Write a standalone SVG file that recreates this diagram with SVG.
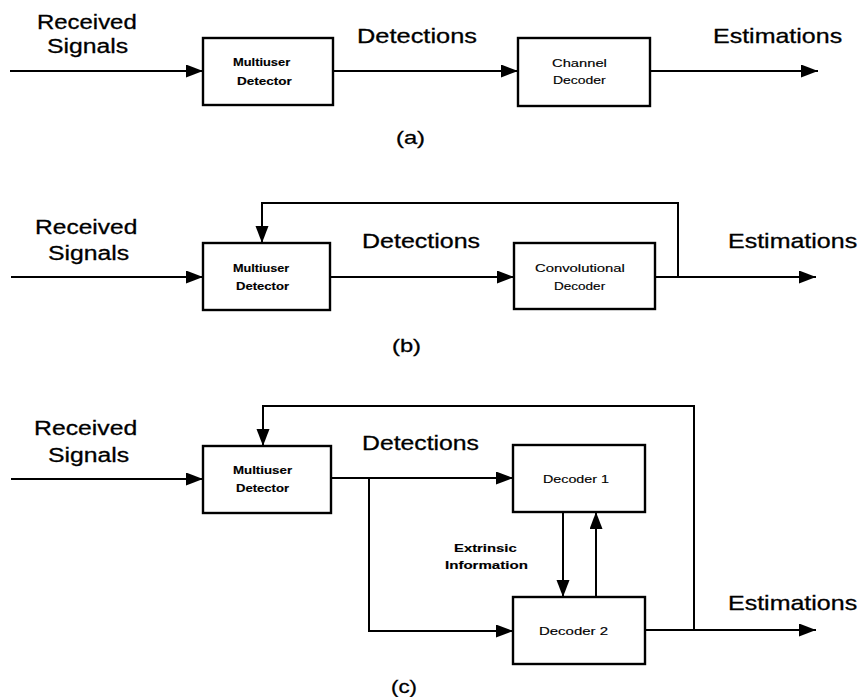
<svg xmlns="http://www.w3.org/2000/svg" width="860" height="697" viewBox="0 0 860 697">
  <style>
    .box { fill: #fff; stroke: #000; stroke-width: 2.4; }
    .wire { fill: none; stroke: #000; stroke-width: 2; }
    text { font-family: "Liberation Sans", Arial, Helvetica, sans-serif; fill: #000; }
    .lbl { font-size: 21px; stroke: #000; stroke-width: 0.3; }
    .cap { font-size: 19px; stroke: #000; stroke-width: 0.3; }
    .in { font-size: 11px; stroke: #000; stroke-width: 0.15; }
    .b { font-weight: bold; }
  </style>
  <defs>
    <marker id="arrow" markerUnits="userSpaceOnUse" markerWidth="18" markerHeight="14" refX="17" refY="6.5" orient="auto">
      <path d="M0,0 L17,6.5 L0,13 z" fill="#000"/>
    </marker>
  </defs>
  <rect width="860" height="697" fill="#fff"/>

  <!-- connectors -->
  <g id="connectors" class="wire" marker-end="url(#arrow)">
    <!-- (a) -->
    <path d="M10,71 H203"/>
    <path d="M333,71 H518"/>
    <path d="M650,71 H818"/>
    <!-- (b) -->
    <path d="M11,277 H203"/>
    <path d="M330,277 H514"/>
    <path d="M655,277 H816"/>
    <path d="M678,277 V203 H262 V243"/>
    <!-- (c) -->
    <path d="M11,479 H203"/>
    <path d="M331,478 H513"/>
    <path d="M369,478 V631 H513"/>
    <path d="M645,630 H816"/>
    <path d="M694,630 V406 H263 V446"/>
    <path d="M563,512 V597"/>
    <path d="M596,597 V512"/>
  </g>

  <!-- (a) plain detection then decoding -->
  <g id="a-mud">
    <rect class="box" x="203" y="38" width="130" height="67"/>
    <text class="in b" transform="translate(233,66) scale(1.17,1)">Multiuser</text>
    <text class="in b" transform="translate(237,85) scale(1.23,1)">Detector</text>
  </g>
  <g id="a-dec">
    <rect class="box" x="518" y="38" width="132" height="68"/>
    <text class="in" transform="translate(552,67) scale(1.34,1)">Channel</text>
    <text class="in" transform="translate(553,84) scale(1.27,1)">Decoder</text>
  </g>
  <g id="a-labels">
    <text class="lbl" transform="translate(37,29) scale(1.14,1)">Received</text>
    <text class="lbl" transform="translate(47,53) scale(1.18,1)">Signals</text>
    <text class="lbl" transform="translate(357,43) scale(1.21,1)">Detections</text>
    <text class="lbl" transform="translate(713,43) scale(1.19,1)">Estimations</text>
    <text class="cap" transform="translate(396,144) scale(1.25,1)">(a)</text>
  </g>

  <!-- (b) iterative detection with a convolutional decoder -->
  <g id="b-mud">
    <rect class="box" x="203" y="243" width="127" height="67"/>
    <text class="in b" transform="translate(233,272) scale(1.15,1)">Multiuser</text>
    <text class="in b" transform="translate(236,290) scale(1.19,1)">Detector</text>
  </g>
  <g id="b-dec">
    <rect class="box" x="514" y="243" width="141" height="66"/>
    <text class="in" transform="translate(535,272) scale(1.35,1)">Convolutional</text>
    <text class="in" transform="translate(554,290) scale(1.23,1)">Decoder</text>
  </g>
  <g id="b-labels">
    <text class="lbl" transform="translate(35,234) scale(1.17,1)">Received</text>
    <text class="lbl" transform="translate(48,260) scale(1.18,1)">Signals</text>
    <text class="lbl" transform="translate(362,248) scale(1.19,1)">Detections</text>
    <text class="lbl" transform="translate(728,248) scale(1.19,1)">Estimations</text>
    <text class="cap" transform="translate(392,352) scale(1.25,1)">(b)</text>
  </g>

  <!-- (c) turbo-style iterative receiver -->
  <g id="c-mud">
    <rect class="box" x="203" y="446" width="128" height="67"/>
    <text class="in b" transform="translate(233,474) scale(1.21,1)">Multiuser</text>
    <text class="in b" transform="translate(236,492) scale(1.19,1)">Detector</text>
  </g>
  <g id="c-dec1">
    <rect class="box" x="513" y="445" width="132" height="67"/>
    <text class="in" transform="translate(543,483) scale(1.30,1)">Decoder 1</text>
  </g>
  <g id="c-dec2">
    <rect class="box" x="513" y="597" width="132" height="67"/>
    <text class="in" transform="translate(539,635) scale(1.36,1)">Decoder 2</text>
  </g>
  <g id="c-labels">
    <text class="lbl" transform="translate(34,435) scale(1.18,1)">Received</text>
    <text class="lbl" transform="translate(48,462) scale(1.18,1)">Signals</text>
    <text class="lbl" transform="translate(362,450) scale(1.18,1)">Detections</text>
    <text class="lbl" transform="translate(728,610) scale(1.19,1)">Estimations</text>
    <text class="in b" transform="translate(454,552) scale(1.35,1)">Extrinsic</text>
    <text class="in b" transform="translate(445,569) scale(1.37,1)">Information</text>
    <text class="cap" transform="translate(391,693) scale(1.17,1)">(c)</text>
  </g>
</svg>
